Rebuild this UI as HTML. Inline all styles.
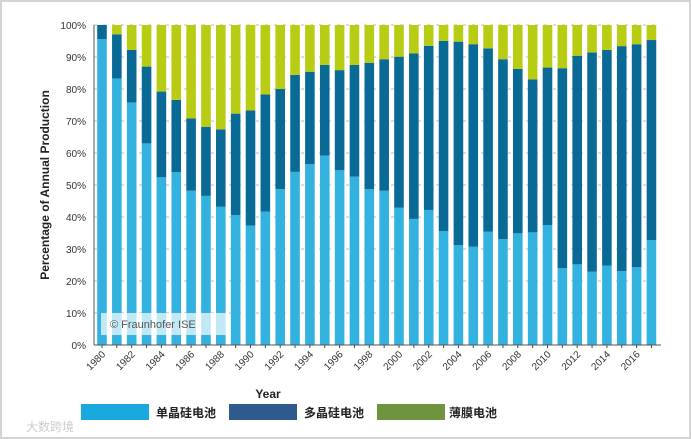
<!DOCTYPE html>
<html><head><meta charset="utf-8"><style>
body{margin:0;background:#fff}
svg{display:block;font-family:"Liberation Sans","Noto Sans CJK SC",sans-serif}
</style></head><body>
<svg width="691" height="439" viewBox="0 0 691 439">
<rect x="1" y="1" width="689" height="437" fill="#fff" stroke="#d4d4d4" stroke-width="2"/>
<g id="grid"></g>
<g id="bars"></g>
<g id="axes"></g>
<rect x="101" y="313" width="126" height="22" fill="#fff" fill-opacity="0.7"/>
<text x="110" y="328" font-size="11" fill="#555">© Fraunhofer ISE</text>
<text transform="translate(49,185) rotate(-90)" text-anchor="middle" font-size="12" font-weight="bold" fill="#222">Percentage of Annual Production</text>
<text x="268" y="398" text-anchor="middle" font-size="12" font-weight="bold" fill="#222">Year</text>
<g>
<rect x="81" y="404" width="68" height="16" fill="#1aa9df"/>
<text x="156" y="417" font-size="12" font-weight="bold" fill="#222">单晶硅电池</text>
<rect x="229" y="404" width="68" height="16" fill="#2e5b8e"/>
<text x="304" y="417" font-size="12" font-weight="bold" fill="#222">多晶硅电池</text>
<rect x="377" y="404" width="68" height="16" fill="#6f9440"/>
<text x="449" y="417" font-size="12" font-weight="bold" fill="#222">薄膜电池</text>
</g>
<text x="26" y="431" font-size="12" fill="#ccc">大数跨境</text>
</svg>
<script>
const years=[1980,1981,1982,1983,1984,1985,1986,1987,1988,1989,1990,1991,1992,1993,1994,1995,1996,1997,1998,1999,2000,2001,2002,2003,2004,2005,2006,2007,2008,2009,2010,2011,2012,2013,2014,2015,2016,2017];
const mono=[95.6,83.3,75.8,63,52.4,54,48.2,46.6,43.2,40.6,37.3,41.7,48.7,54.1,56.5,59.2,54.6,52.6,48.7,48.2,42.9,39.4,42.2,35.6,31.2,30.7,35.4,33.1,34.9,35.2,37.5,24,25.2,22.9,24.8,23.1,24.3,32.8];
const monoPlusPoly=[100,97.1,92.2,87,79.2,76.6,70.8,68.2,67.4,72.3,73.3,78.3,80,84.4,85.4,87.5,85.9,87.5,88.2,89.3,90.1,91.1,93.5,95,94.8,94,92.7,89.3,86.3,83,86.7,86.5,90.4,91.4,92.2,93.4,94,95.3];
const yTicks=[0,10,20,30,40,50,60,70,80,90,100];
const xLabelYears=[1980,1982,1984,1986,1988,1990,1992,1994,1996,1998,2000,2002,2004,2006,2008,2010,2012,2014,2016];
const NS='http://www.w3.org/2000/svg';
const y0=345,y1=25,x0=94,xEnd=661;
const yS=v=>y0-(v/100)*(y0-y1);
const step=14.85,bw=9.6;
const xC=i=>102+i*step;
function mk(t,a,p){const e=document.createElementNS(NS,t);for(const k in a)e.setAttribute(k,a[k]);p.appendChild(e);return e;}
const grid=document.getElementById('grid'),bars=document.getElementById('bars'),axes=document.getElementById('axes');
yTicks.forEach(v=>{
  const l=mk('line',{x1:x0,x2:xEnd,y1:yS(v),y2:yS(v),stroke:'#bbb','stroke-dasharray':'3,6','stroke-width':1},grid);
  
  
  const t=mk('text',{x:x0-8,y:yS(v)+4,'text-anchor':'end','font-size':10,fill:'#333'},axes);
  t.textContent=v+'%';
  
  
});
years.forEach((yr,i)=>{
  const x=xC(i)-bw/2;
  const r1=mk('rect',{x:x,y:yS(mono[i]),width:bw,height:yS(0)-yS(mono[i]),fill:'#33b2df'},bars);
  
  
  const r2=mk('rect',{x:x,y:yS(monoPlusPoly[i]),width:bw,height:yS(mono[i])-yS(monoPlusPoly[i]),fill:'#0a6a96'},bars);
  
  
  const r3=mk('rect',{x:x,y:yS(100),width:bw,height:yS(monoPlusPoly[i])-yS(100),fill:'#b9cc14'},bars);
  
  
  const tk=mk('line',{x1:xC(i),x2:xC(i),y1:y0,y2:y0+3,stroke:'#444'},axes);
  
  
});
xLabelYears.forEach(yr=>{
  const i=years.indexOf(yr);
  const t=mk('text',{transform:`translate(${xC(i)+4},${y0+10}) rotate(-45)`,'text-anchor':'end','font-size':10,fill:'#333'},axes);
  t.textContent=yr;
  
  
});
const ya=mk('line',{x1:x0,x2:x0,y1:y1,y2:y0,stroke:'#555'},axes);


const xa=mk('line',{x1:x0,x2:xEnd,y1:y0,y2:y0,stroke:'#555'},axes);


</script>
</body></html>
